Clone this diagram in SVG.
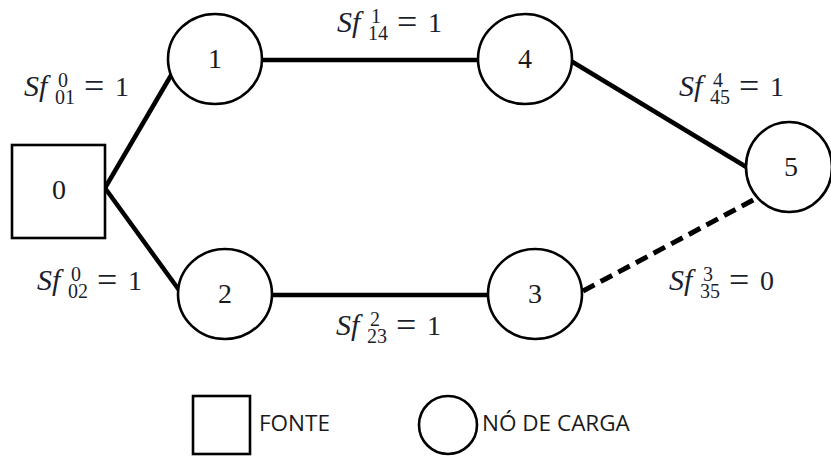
<svg xmlns="http://www.w3.org/2000/svg" width="831" height="457" viewBox="0 0 831 457">
  <style>
    .node { fill: #ffffff; stroke: #000000; stroke-width: 2.6; }
    .edge { stroke: #000000; stroke-width: 4.5; fill: none; stroke-linecap: butt; }
    .off { stroke-dasharray: 13 7; stroke-width: 5; }
    .num { font-family: "Liberation Serif", "DejaVu Serif", serif; font-size: 28px; fill: #1a1a1a; text-anchor: middle; }
    .flow { font-family: "Liberation Serif", "DejaVu Serif", serif; font-size: 28px; fill: #1c1f2e; }
    .it { font-style: italic; font-size: 30px; }
    .sm { font-size: 20px; font-style: normal; }
    .op { font-size: 36px; }
    .leg { font-family: "Open Sans", "Liberation Sans", sans-serif; font-size: 22.5px; fill: #1a1a1a; }
  </style>

  <!-- connectors -->
  <g id="connectors">
    <line class="edge" x1="105" y1="188" x2="173" y2="72"/>
    <line class="edge" x1="105" y1="188" x2="179" y2="290"/>
    <line class="edge" x1="262" y1="60" x2="478" y2="60"/>
    <line class="edge" x1="272" y1="295" x2="488" y2="295"/>
    <line class="edge" x1="571" y1="61" x2="748" y2="168"/>
    <line class="edge off" x1="583" y1="291" x2="757" y2="198"/>
  </g>

  <!-- flow labels: S f, superscript, subscript, "=", value -->
  <g id="labels">
    <text id="label-01" class="flow"><tspan class="it" x="24" y="96">Sf</tspan><tspan class="sm" x="58" y="87">0</tspan><tspan class="sm" x="55" y="104">01</tspan><tspan class="op" x="84" y="98">=</tspan><tspan x="115" y="96">1</tspan></text>
    <text id="label-02" class="flow"><tspan class="it" x="37" y="290">Sf</tspan><tspan class="sm" x="71" y="281">0</tspan><tspan class="sm" x="68" y="298">02</tspan><tspan class="op" x="97" y="292">=</tspan><tspan x="128" y="290">1</tspan></text>
    <text id="label-14" class="flow"><tspan class="it" x="337" y="32">Sf</tspan><tspan class="sm" x="371" y="23">1</tspan><tspan class="sm" x="368" y="40">14</tspan><tspan class="op" x="397" y="34">=</tspan><tspan x="428" y="32">1</tspan></text>
    <text id="label-45" class="flow"><tspan class="it" x="679" y="96">Sf</tspan><tspan class="sm" x="713" y="87">4</tspan><tspan class="sm" x="710" y="104">45</tspan><tspan class="op" x="739" y="98">=</tspan><tspan x="770" y="96">1</tspan></text>
    <text id="label-35" class="flow"><tspan class="it" x="669" y="290">Sf</tspan><tspan class="sm" x="703" y="281">3</tspan><tspan class="sm" x="700" y="298">35</tspan><tspan class="op" x="729" y="292">=</tspan><tspan x="760" y="290">0</tspan></text>
    <text id="label-23" class="flow"><tspan class="it" x="336" y="335">Sf</tspan><tspan class="sm" x="370" y="326">2</tspan><tspan class="sm" x="367" y="343">23</tspan><tspan class="op" x="396" y="337">=</tspan><tspan x="427" y="335">1</tspan></text>
  </g>

  <!-- nodes -->
  <g id="node-0">
    <rect class="node" x="12" y="145" width="93" height="93"/>
    <text class="num" x="59" y="199">0</text>
  </g>
  <g id="node-1">
    <ellipse class="node" cx="215" cy="59" rx="47" ry="45"/>
    <text class="num" x="215" y="68">1</text>
  </g>
  <g id="node-4">
    <ellipse class="node" cx="525" cy="59" rx="47" ry="45"/>
    <text class="num" x="525" y="68">4</text>
  </g>
  <g id="node-2">
    <ellipse class="node" cx="225" cy="294" rx="47" ry="45"/>
    <text class="num" x="225" y="303">2</text>
  </g>
  <g id="node-3">
    <ellipse class="node" cx="535" cy="294" rx="47" ry="45"/>
    <text class="num" x="535" y="303">3</text>
  </g>
  <g id="node-5">
    <ellipse class="node" cx="789" cy="167" rx="43" ry="45"/>
    <text class="num" x="791" y="176">5</text>
  </g>

  <!-- legend -->
  <g id="legend">
    <rect class="node" x="193" y="396" width="57" height="58"/>
    <text class="leg" x="259" y="431">FONTE</text>
    <ellipse class="node" cx="448" cy="425" rx="29" ry="29"/>
    <text class="leg" x="482" y="431">NÓ DE CARGA</text>
  </g>
</svg>
